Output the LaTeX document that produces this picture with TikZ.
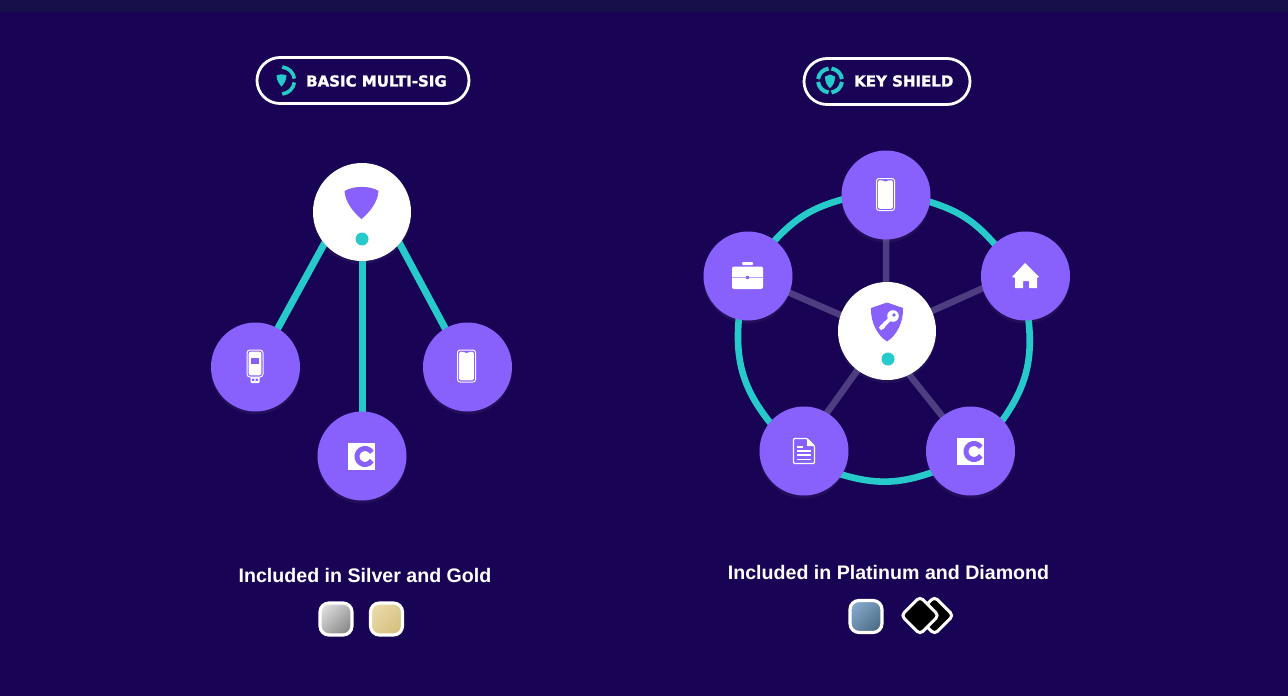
\documentclass[tikz,border=0pt]{standalone}
\usepackage{fontspec}
\setmainfont{Liberation Sans}
\newfontfamily\pillfont[BoldFeatures={FakeBold=1.6}]{DejaVu Sans}
\usetikzlibrary{backgrounds,shadows}
\definecolor{nightbg}{HTML}{190355}
\definecolor{topbar}{HTML}{160F4A}
\definecolor{violet1}{HTML}{8860FB}
\definecolor{teal1}{HTML}{26CACA}
\definecolor{spoke}{HTML}{4E3D80}
\definecolor{silverA}{HTML}{DADADA}
\definecolor{silverB}{HTML}{8A8A8A}
\definecolor{goldA}{HTML}{E8DAA6}
\definecolor{goldB}{HTML}{D6BF80}
\definecolor{platA}{HTML}{82A8C8}
\definecolor{platB}{HTML}{4E6E88}
\tikzset{
  softshadow/.style={drop shadow={opacity=.1,shadow xshift=0pt,shadow yshift=-3pt}},
  hub/.style={circle,fill=white,inner sep=0pt,minimum size=98pt,softshadow},
  device/.style={circle,fill=violet1,inner sep=0pt,minimum size=89pt,softshadow},
  pill/.style={draw=white,line width=2.8pt,rounded corners=23pt,minimum height=46pt,inner sep=0pt},
  pilltext/.style={text=white,inner sep=0pt,font=\pillfont\bfseries\fontsize{15}{17}\selectfont},
  caption/.style={text=white,inner sep=0pt,font=\bfseries\fontsize{19.6}{24}\selectfont},
  swatch/.style={rounded corners=9pt,draw=white,line width=3.2pt,minimum size=32pt,inner sep=0pt},
  gem/.style={rounded corners=4pt,draw=white,line width=3pt,fill=black,minimum size=26.5pt,inner sep=0pt,rotate=45},
  dot/.style={circle,fill=teal1,inner sep=0pt,minimum size=13pt},
  keyline/.style={teal1,line width=7pt,shorten <=-2pt,shorten >=-2pt},
  ringline/.style={teal1,line width=6.6pt,shorten <=-2pt,shorten >=-2pt},
  spokeline/.style={spoke,line width=6.5pt,shorten <=-2pt,shorten >=-2pt},
  phoneicon/.pic={
    \draw[white,line width=1pt,rounded corners=2.5pt] (-9,-16) rectangle (9,16);
    \fill[white,rounded corners=1.5pt] (-7.3,-14.3) -- (-3.5,-14.3) -- (-2.5,-13.2) -- (2.5,-13.2) -- (3.5,-14.3) -- (7.3,-14.3) -- (7.3,14.3) -- (-7.3,14.3) -- cycle;
  },
  usbicon/.pic={
    \fill[white,rounded corners=1pt] (-4.5,8) rectangle (4.5,16);
    \fill[violet1] (-2.8,11.5) rectangle (-.6,13.8) (.6,11.5) rectangle (2.8,13.8);
    \draw[white,fill=violet1,line width=1pt,rounded corners=3pt] (-8,-17) rectangle (8,10);
    \fill[white,rounded corners=2pt] (-6.3,-15.3) rectangle (6.3,8.4);
    \fill[violet1] (-3.8,-9) rectangle (3.8,-3);
  },
  ledgericon/.pic={
    \fill[white] (-13.5,-13.5) rectangle (13.5,13.5);
    \draw[violet1,line width=5pt] (3.5,0) ++(-32:8) arc[start angle=-32,end angle=-328,radius=8];
  },
  shieldicon/.pic={
    \fill[violet1] (-17.5,-17) .. controls (-8,-22.5) and (8,-22.5) .. (16.5,-17) .. controls (16,-6) and (7,5) .. (-.5,11) .. controls (-8,5) and (-17,-6) .. (-17.5,-17) -- cycle;
  },
  keyshieldicon/.pic={
    \fill[violet1] (-16,-14) -- (0,-19.5) -- (16,-14) .. controls (16.5,0) and (10,13) .. (0,19.5) .. controls (-10,13) and (-16.5,0) .. (-16,-14) -- cycle;
    \draw[white,line width=3.8pt] (-7,7) -- (4,-4);
    \draw[white,line width=2.4pt] (-5.8,2.8) -- (-2.6,6) (-2.8,-.2) -- (-.2,2.4);
    \fill[white] (6,-6) circle (5.8);
    \fill[violet1] (7,-7) circle (1.9);
  },
  caseicon/.pic={
    \fill[white,rounded corners=2pt] (-15.5,-9.5) rectangle (15.5,13);
    \fill[white,rounded corners=1pt] (-5.5,-14) rectangle (5.5,-11);
    \draw[violet1!60!white,line width=.6pt] (-15.5,1) -- (15.5,1);
    \fill[violet1] (-1.6,-.4) rectangle (1.6,2.6);
  },
  houseicon/.pic={
    \fill[white] (0,-13) -- (14,1) -- (12,1.8) -- (12,12) -- (4,12) -- (4,5) -- (-2,5) -- (-2,12) -- (-10,12) -- (-10,1.8) -- (-13,1) -- cycle;
  },
  docicon/.pic={
    \draw[white,line width=1.2pt,rounded corners=1pt] (-10.5,-12.5) -- (3,-12.5) -- (10.5,-5) -- (10.5,12.5) -- (-10.5,12.5) -- cycle;
    \fill[white] (3,-12.5) -- (3,-5) -- (10.5,-5) -- cycle;
    \draw[white,line width=1.4pt] (-7,-4) -- (-1,-4) (-7,0) -- (7,0) (-7,4) -- (7,4) (-7,8.5) -- (7,8.5);
  },
}
\begin{document}
\begin{tikzpicture}[x=1pt,y=-1pt]
\useasboundingbox (0,0) rectangle (1288,696);
% left group
\node[hub] (sig) at (362,212) {};
\node[device] (usb) at (255.5,367) {};
\node[device] (card) at (362,456) {};
\node[device] (mobile) at (467.5,367) {};
\node[dot] (sigdot) at (362,239) {};
\pic at (362,208) {shieldicon};
\pic at (255,367) {usbicon};
\pic at (361.5,456.5) {ledgericon};
\pic at (466.5,366) {phoneicon};
% right group
\node[hub] (shield) at (887,331) {};
\node[device] (phone) at (886,195) {};
\node[device] (house) at (1025.5,276) {};
\node[device] (case) at (748,276) {};
\node[device] (doc) at (804,451) {};
\node[device] (ledger) at (970.5,451) {};
\node[dot] (shielddot) at (888,359) {};
\pic at (887,322) {keyshieldicon};
\pic at (885.5,194.5) {phoneicon};
\pic at (1025,276) {houseicon};
\pic at (747.5,276) {caseicon};
\pic at (804,451) {docicon};
\pic at (970.5,451.5) {ledgericon};
% labels on top
\node[pill,minimum width=212pt] (basicpill) at (363,80.5) {};
\node[pill,minimum width=166pt] (keypill) at (887,81.5) {};
\node[pilltext,anchor=west] (basiclabel) at (306,81) {BASIC MULTI-SIG};
\node[pilltext,anchor=west] (keylabel) at (854,81) {KEY SHIELD};
\draw[teal1,line width=3.6pt] (281,80.5) ++(-85:13.5) arc[start angle=-85,end angle=-8,radius=13.5];
\draw[teal1,line width=3.6pt] (281,80.5) ++(8:13.5) arc[start angle=8,end angle=85,radius=13.5];
\fill[teal1] (276.5,75.5) .. controls (279,74) and (284,74) .. (286.5,75.5) .. controls (286.5,80) and (284,84) .. (281.5,86.5) .. controls (279,84) and (276.5,80) .. (276.5,75.5) -- cycle;
\foreach \a in {0,90,180,270}
  \draw[teal1,line width=4pt] (830,80.5) ++(\a+7:12) arc[start angle=\a+7,end angle=\a+83,radius=12];
\fill[teal1] (825,76.5) -- (830,74.5) -- (835,76.5) .. controls (835,82) and (833,86) .. (830,88) .. controls (827,86) and (825,82) .. (825,76.5) -- cycle;
\node[caption] (basiccap) at (365,575) {Included in Silver and Gold};
\node[caption] (keycap) at (888.5,572) {Included in Platinum and Diamond};
\node[swatch,left color=silverA,right color=silverB,shading angle=45] (silver) at (336,619) {};
\node[swatch,left color=goldA,right color=goldB,shading angle=45] (gold) at (386.5,619) {};
\node[swatch,left color=platA,right color=platB,shading angle=45] (platinum) at (866,616.5) {};
\node[gem] (gemback) at (934.5,615.5) {};
\node[gem] (gemfront) at (920,615.5) {};
\begin{scope}[on background layer]
\fill[nightbg] (0,0) rectangle (1288,696);
\fill[topbar] (0,0) rectangle (1288,12);
\draw[keyline] (sig.220) -- (usb.60);
\draw[keyline] (sig.-90) -- (card.90);
\draw[keyline] (sig.-40) -- (mobile.120);
\draw[spokeline] (shield.91) -- (phone.-90);
\draw[spokeline] (shield.161) -- (case.-22);
\draw[spokeline] (shield.24) -- (house.196);
\draw[spokeline] (shield.233) -- (doc.59);
\draw[spokeline] (shield.-63) -- (ledger.129);
\draw[ringline] (case.53) to[bend left=16] (phone.186);
\draw[ringline] (phone.-9) to[bend left=16] (house.134);
\draw[ringline] (house.-86) to[bend left=21] (ledger.44);
\draw[ringline] (ledger.209) to[bend left=18] (doc.-32);
\draw[ringline] (doc.140) to[bend left=22] (case.258);
\end{scope}
\end{tikzpicture}
\end{document}
